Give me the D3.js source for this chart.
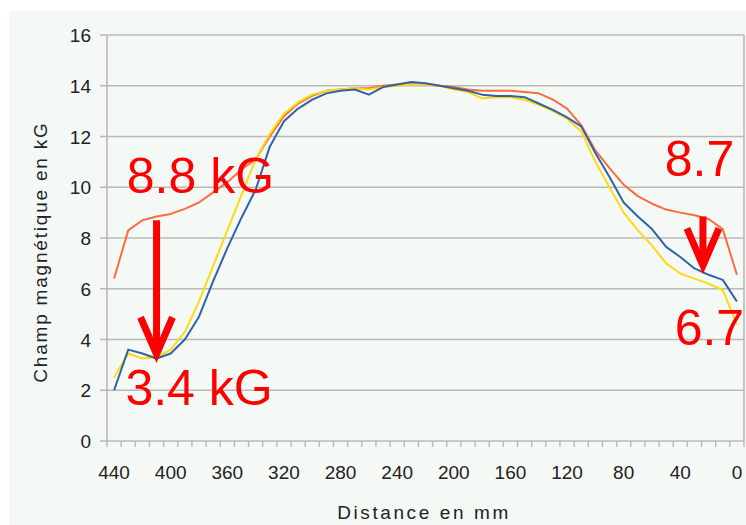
<!DOCTYPE html>
<html>
<head>
<meta charset="utf-8">
<script src="https://cdn.jsdelivr.net/npm/d3@7"></script>
<style>
  body { margin: 0; background: #fff; }
  text { font-family: "Liberation Sans", Arial, sans-serif; }
</style>
</head>
<body>
<div id="chart"></div>
<script>
// distance in mm, one point every 10 mm
var distances = d3.range(440, -1, -10);

var redSeries = [6.4, 8.3, 8.7, 8.85, 8.95, 9.15, 9.4, 9.8, 10.2, 10.7,
  11.1, 12.0, 12.8, 13.3, 13.6, 13.8, 13.85, 13.9, 13.9, 14.0,
  14.05, 14.1, 14.05, 14.0, 13.95, 13.85, 13.8, 13.8, 13.8, 13.75,
  13.7, 13.45, 13.1, 12.45, 11.45, 10.75, 10.1, 9.65, 9.35, 9.12,
  9.0, 8.9, 8.75, 8.35, 6.55];

var yellowSeries = [2.5, 3.45, 3.25, 3.3, 3.6, 4.3, 5.5, 6.9, 8.3, 9.7,
  11.1, 12.1, 12.9, 13.35, 13.65, 13.8, 13.85, 13.9, 13.85, 13.95,
  14.0, 14.05, 14.05, 14.0, 13.85, 13.75, 13.5, 13.55, 13.55, 13.45,
  13.25, 13.0, 12.7, 12.2, 11.0, 10.0, 9.0, 8.3, 7.7, 7.0,
  6.6, 6.4, 6.2, 5.95, 4.6];

var blueSeries = [2.0, 3.6, 3.45, 3.25, 3.45, 4.0, 4.9, 6.3, 7.6, 8.8,
  9.9, 11.6, 12.6, 13.1, 13.45, 13.7, 13.8, 13.85, 13.65, 13.95,
  14.05, 14.15, 14.1, 14.0, 13.9, 13.8, 13.65, 13.6, 13.6, 13.55,
  13.3, 13.05, 12.75, 12.4, 11.35, 10.4, 9.4, 8.85, 8.35, 7.65,
  7.25, 6.8, 6.55, 6.35, 5.5];

var xTickLabels = [440, 400, 360, 320, 280, 240, 200, 160, 120, 80, 40, 0];
var yTickLabels = [0, 2, 4, 6, 8, 10, 12, 14, 16];

// annotations placed in data units
var notes = [
  { d: 431, v: 9.77, text: "8.8 kG" },
  { d: 432, v: 1.42, text: "3.4 kG" },
  { d: 51, v: 10.44, text: "8.7" },
  { d: 44, v: 3.78, text: "6.7" }
];
var arrows = [
  { d: 410, from: 8.7, to: 3.3 },
  { d: 24, from: 8.85, to: 6.8 }
];

var width = 746, height = 525;
var svg = d3.select("#chart").append("svg")
    .attr("width", width)
    .attr("height", height);

svg.append("rect")
    .attr("x", 9).attr("y", 11)
    .attr("width", width - 9).attr("height", height - 11)
    .attr("fill", "#f5f9f6");

var x = d3.scaleLinear().domain([445, -5]).range([107, 744]);
var y = d3.scaleLinear().domain([0, 16]).range([441, 35]);

var gridColor = "#b9b9b9";

// horizontal grid lines + left tick stubs
svg.append("g").selectAll("line")
    .data(yTickLabels)
  .enter().append("line")
    .attr("x1", 100).attr("x2", x(-5))
    .attr("y1", function(d) { return y(d); })
    .attr("y2", function(d) { return y(d); })
    .attr("stroke", gridColor)
    .attr("stroke-width", 1.6);

// left & right border
svg.append("line")
    .attr("x1", x(445)).attr("x2", x(445))
    .attr("y1", y(16)).attr("y2", y(0))
    .attr("stroke", gridColor).attr("stroke-width", 1.6);
svg.append("line")
    .attr("x1", x(-5)).attr("x2", x(-5))
    .attr("y1", y(16)).attr("y2", y(0))
    .attr("stroke", gridColor).attr("stroke-width", 1.6);

// x tick marks on category boundaries
svg.append("g").selectAll("line")
    .data(d3.range(445, -6, -10))
  .enter().append("line")
    .attr("x1", function(d) { return x(d); })
    .attr("x2", function(d) { return x(d); })
    .attr("y1", y(0)).attr("y2", y(0) + 6)
    .attr("stroke", gridColor)
    .attr("stroke-width", 1.4);

svg.append("g").selectAll("text")
    .data(yTickLabels)
  .enter().append("text")
    .attr("x", 91)
    .attr("y", function(d) { return y(d) + 7; })
    .attr("text-anchor", "end")
    .attr("font-size", 19)
    .attr("fill", "#222")
    .text(function(d) { return d; });

svg.append("g").selectAll("text")
    .data(xTickLabels)
  .enter().append("text")
    .attr("x", function(d) { return x(d); })
    .attr("y", 479)
    .attr("text-anchor", "middle")
    .attr("font-size", 19)
    .attr("fill", "#222")
    .text(function(d) { return d; });

svg.append("text")
    .attr("transform", "translate(47,252) rotate(-90)")
    .attr("text-anchor", "middle")
    .attr("font-size", 19)
    .attr("letter-spacing", 1.8)
    .attr("fill", "#222")
    .text("Champ magnétique en kG");

svg.append("text")
    .attr("x", 424).attr("y", 519)
    .attr("text-anchor", "middle")
    .attr("font-size", 19)
    .attr("letter-spacing", 2.6)
    .attr("fill", "#222")
    .text("Distance en mm");

var line = d3.line()
    .x(function(d, i) { return x(distances[i]); })
    .y(function(d) { return y(d); });

var series = [
  { values: redSeries, color: "#ff6a40" },
  { values: yellowSeries, color: "#ffd912" },
  { values: blueSeries, color: "#2f63a8" }
];

svg.append("g").selectAll("path")
    .data(series)
  .enter().append("path")
    .attr("d", function(s) { return line(s.values); })
    .attr("fill", "none")
    .attr("stroke", function(s) { return s.color; })
    .attr("stroke-width", 2)
    .attr("stroke-linejoin", "round");

// red annotations
svg.append("g").selectAll("text")
    .data(notes)
  .enter().append("text")
    .attr("x", function(d) { return x(d.d); })
    .attr("y", function(d) { return y(d.v); })
    .attr("font-size", 50)
    .attr("fill", "#ff0000")
    .text(function(d) { return d.text; });

var arrowG = svg.append("g")
    .attr("stroke", "#ff0000")
    .attr("stroke-width", 7)
    .attr("fill", "none");

arrows.forEach(function(a) {
  var ax = x(a.d), y0 = y(a.from), y1 = y(a.to);
  arrowG.append("line")
      .attr("x1", ax).attr("x2", ax)
      .attr("y1", y0).attr("y2", y1 - 4);
  arrowG.append("path")
      .attr("d", "M" + (ax - 16) + "," + (y1 - 40) + "L" + ax + "," + (y1 - 3) + "L" + (ax + 16) + "," + (y1 - 40));
});
</script>
</body>
</html>
